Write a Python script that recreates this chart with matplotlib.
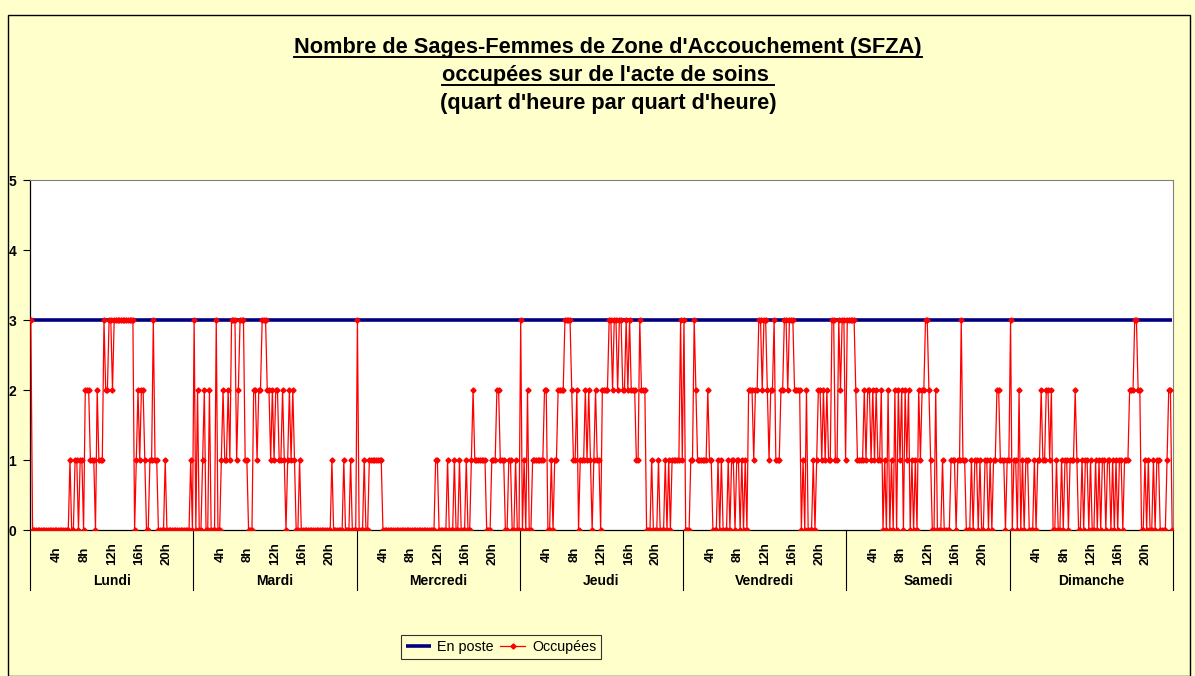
import matplotlib
matplotlib.use("Agg")
import matplotlib.pyplot as plt
import matplotlib.transforms as mtransforms
from matplotlib.lines import Line2D
from matplotlib.patches import Rectangle

plt.rcParams['font.family'] = ['Liberation Sans', 'DejaVu Sans']

# --- data -------------------------------------------------------------
jours = ["Lundi", "Mardi", "Mercredi", "Jeudi", "Vendredi", "Samedi", "Dimanche"]
heures = ["4h", "8h", "12h", "16h", "20h"]
en_poste = 3  # SFZA en poste, chaque quart d'heure

# SFZA occupées, 96 quarts d'heure par jour (une ligne = 4 heures)
occ_lundi = ("3000000000000000" "0000000100110110" "2221110211132233"
             "2333333333333012" "1221001131100001" "0000000000000010")
occ_mardi = ("3020012002000300" "1211213331233311" "0002212233322121"
             "2211210121210010" "0000000000000000" "0100000010001000")
occ_mercredi = ("3000100111111110" "0000000000000000" "0000000000000011"
                "0000010001001000" "1001211111110001" "1122111001100100")
occ_jeudi = ("3010200111111122" "0010112222333321" "1201112121012110"
             "2222332332332232" "3222113222000100" "0100010101111131")
occ_vendredi = ("3000113211111121" "1000101000101101" "1010102221223323"
                "3212231112233233" "3222201020001012" "2121211331132331")
occ_samedi = ("3333321111212212" "1211201020102021" "2021201010212233"
              "2100200010000111" "0113110001011010" "0110101122111011")
occ_dimanche = ("3011020101100010" "1121122120010010" "1101112100101101"
                "0010101101101010" "1101112223322001" "0100101100001220")

semaine = [occ_lundi, occ_mardi, occ_mercredi, occ_jeudi,
           occ_vendredi, occ_samedi, occ_dimanche]
for s in semaine:
    assert len(s) == 96, len(s)
occupees = [int(c) for s in semaine for c in s]
n = len(occupees)
pas = 96
x = [i + 0.5 for i in range(n)]
poste = [en_poste] * n

# --- figure -----------------------------------------------------------
W, H = 1195, 676
BG = '#FFFFCC'
fig = plt.figure(figsize=(W / 100, H / 100), dpi=100, facecolor=BG)

# chart frame
fig.add_artist(Rectangle((8 / W, 0), (1190 - 8) / W, 1 - 15 / H,
                         transform=fig.transFigure, facecolor='none',
                         edgecolor='black', lw=1.0))

L, R, T, B = 30, 1173, 180, 530
ax = fig.add_axes([L / W, 1 - B / H, (R - L) / W, (B - T) / H])
ax.set_facecolor('white')

ax.plot(x, poste, color='#000080', lw=2.6, solid_capstyle='butt', zorder=2,
        label='En poste')
ax.plot(x, occupees, color='#FF0000', lw=0.9, marker='D', ms=2.6,
        mec='#FF0000', mfc='#FF0000', zorder=3, label='Occupées')

ax.set_xlim(0, n)
ax.set_ylim(0, 5)
ax.set_yticks(range(6))
ax.set_yticklabels([str(v) for v in range(6)], fontweight='bold', fontsize=10)
ax.tick_params(axis='y', length=5, width=0.8, pad=5, direction='out')
ax.set_xticks([])
for side in ('top', 'right'):
    ax.spines[side].set_color('#808080')
    ax.spines[side].set_linewidth(0.8)
for side in ('left', 'bottom'):
    ax.spines[side].set_color('black')
    ax.spines[side].set_linewidth(0.9)

# multi-level category axis: hours, then days
blend = mtransforms.blended_transform_factory(ax.transData, ax.transAxes)
h_ax = B - T
for d in range(len(jours) + 1):
    ax.add_line(Line2D([d * pas, d * pas], [0, -(590 - B) / h_ax],
                       transform=blend, color='black', lw=0.8, clip_on=False))
for d, jour in enumerate(jours):
    for k, h in enumerate(heures):
        ax.text(d * pas + (k + 1) * 16, -(554 - B) / h_ax, h, transform=blend,
                rotation=90, ha='center', va='center', fontsize=9.5,
                fontweight='bold')
    ax.text(d * pas + pas / 2, -(581 - B) / h_ax, jour, transform=blend,
            ha='center', va='center', fontsize=10, fontweight='bold')

# title
titres = [("Nombre de Sages-Femmes de Zone d'Accouchement (SFZA)", 47, True),
          ("occupées sur de l'acte de soins ", 75, True),
          ("(quart d'heure par quart d'heure)", 103, False)]
textes = []
for txt, yy, soul in titres:
    t = fig.text(608 / W, 1 - yy / H, txt, ha='center', va='center',
                 fontsize=15.7, fontweight='bold')
    textes.append((t, soul))

leg = fig.legend(loc='center', bbox_to_anchor=(501 / W, 1 - 647 / H),
                 ncol=2, frameon=True, fancybox=False, fontsize=10.3,
                 handlelength=1.75, handletextpad=0.45, columnspacing=0.45,
                 borderpad=0.35, borderaxespad=0)
leg.get_frame().set_edgecolor('black')
leg.get_frame().set_facecolor(BG)
leg.get_frame().set_linewidth(0.8)

fig.canvas.draw()
rend = fig.canvas.get_renderer()
for t, soul in textes:
    if not soul:
        continue
    bb = t.get_window_extent(rend)
    yline = bb.y0 + 1.0
    fig.add_artist(Line2D([bb.x0 / W, bb.x1 / W], [yline / H, yline / H],
                          transform=fig.transFigure, color='black', lw=1.4))

fig.savefig('out.png', dpi=100, facecolor=BG)
